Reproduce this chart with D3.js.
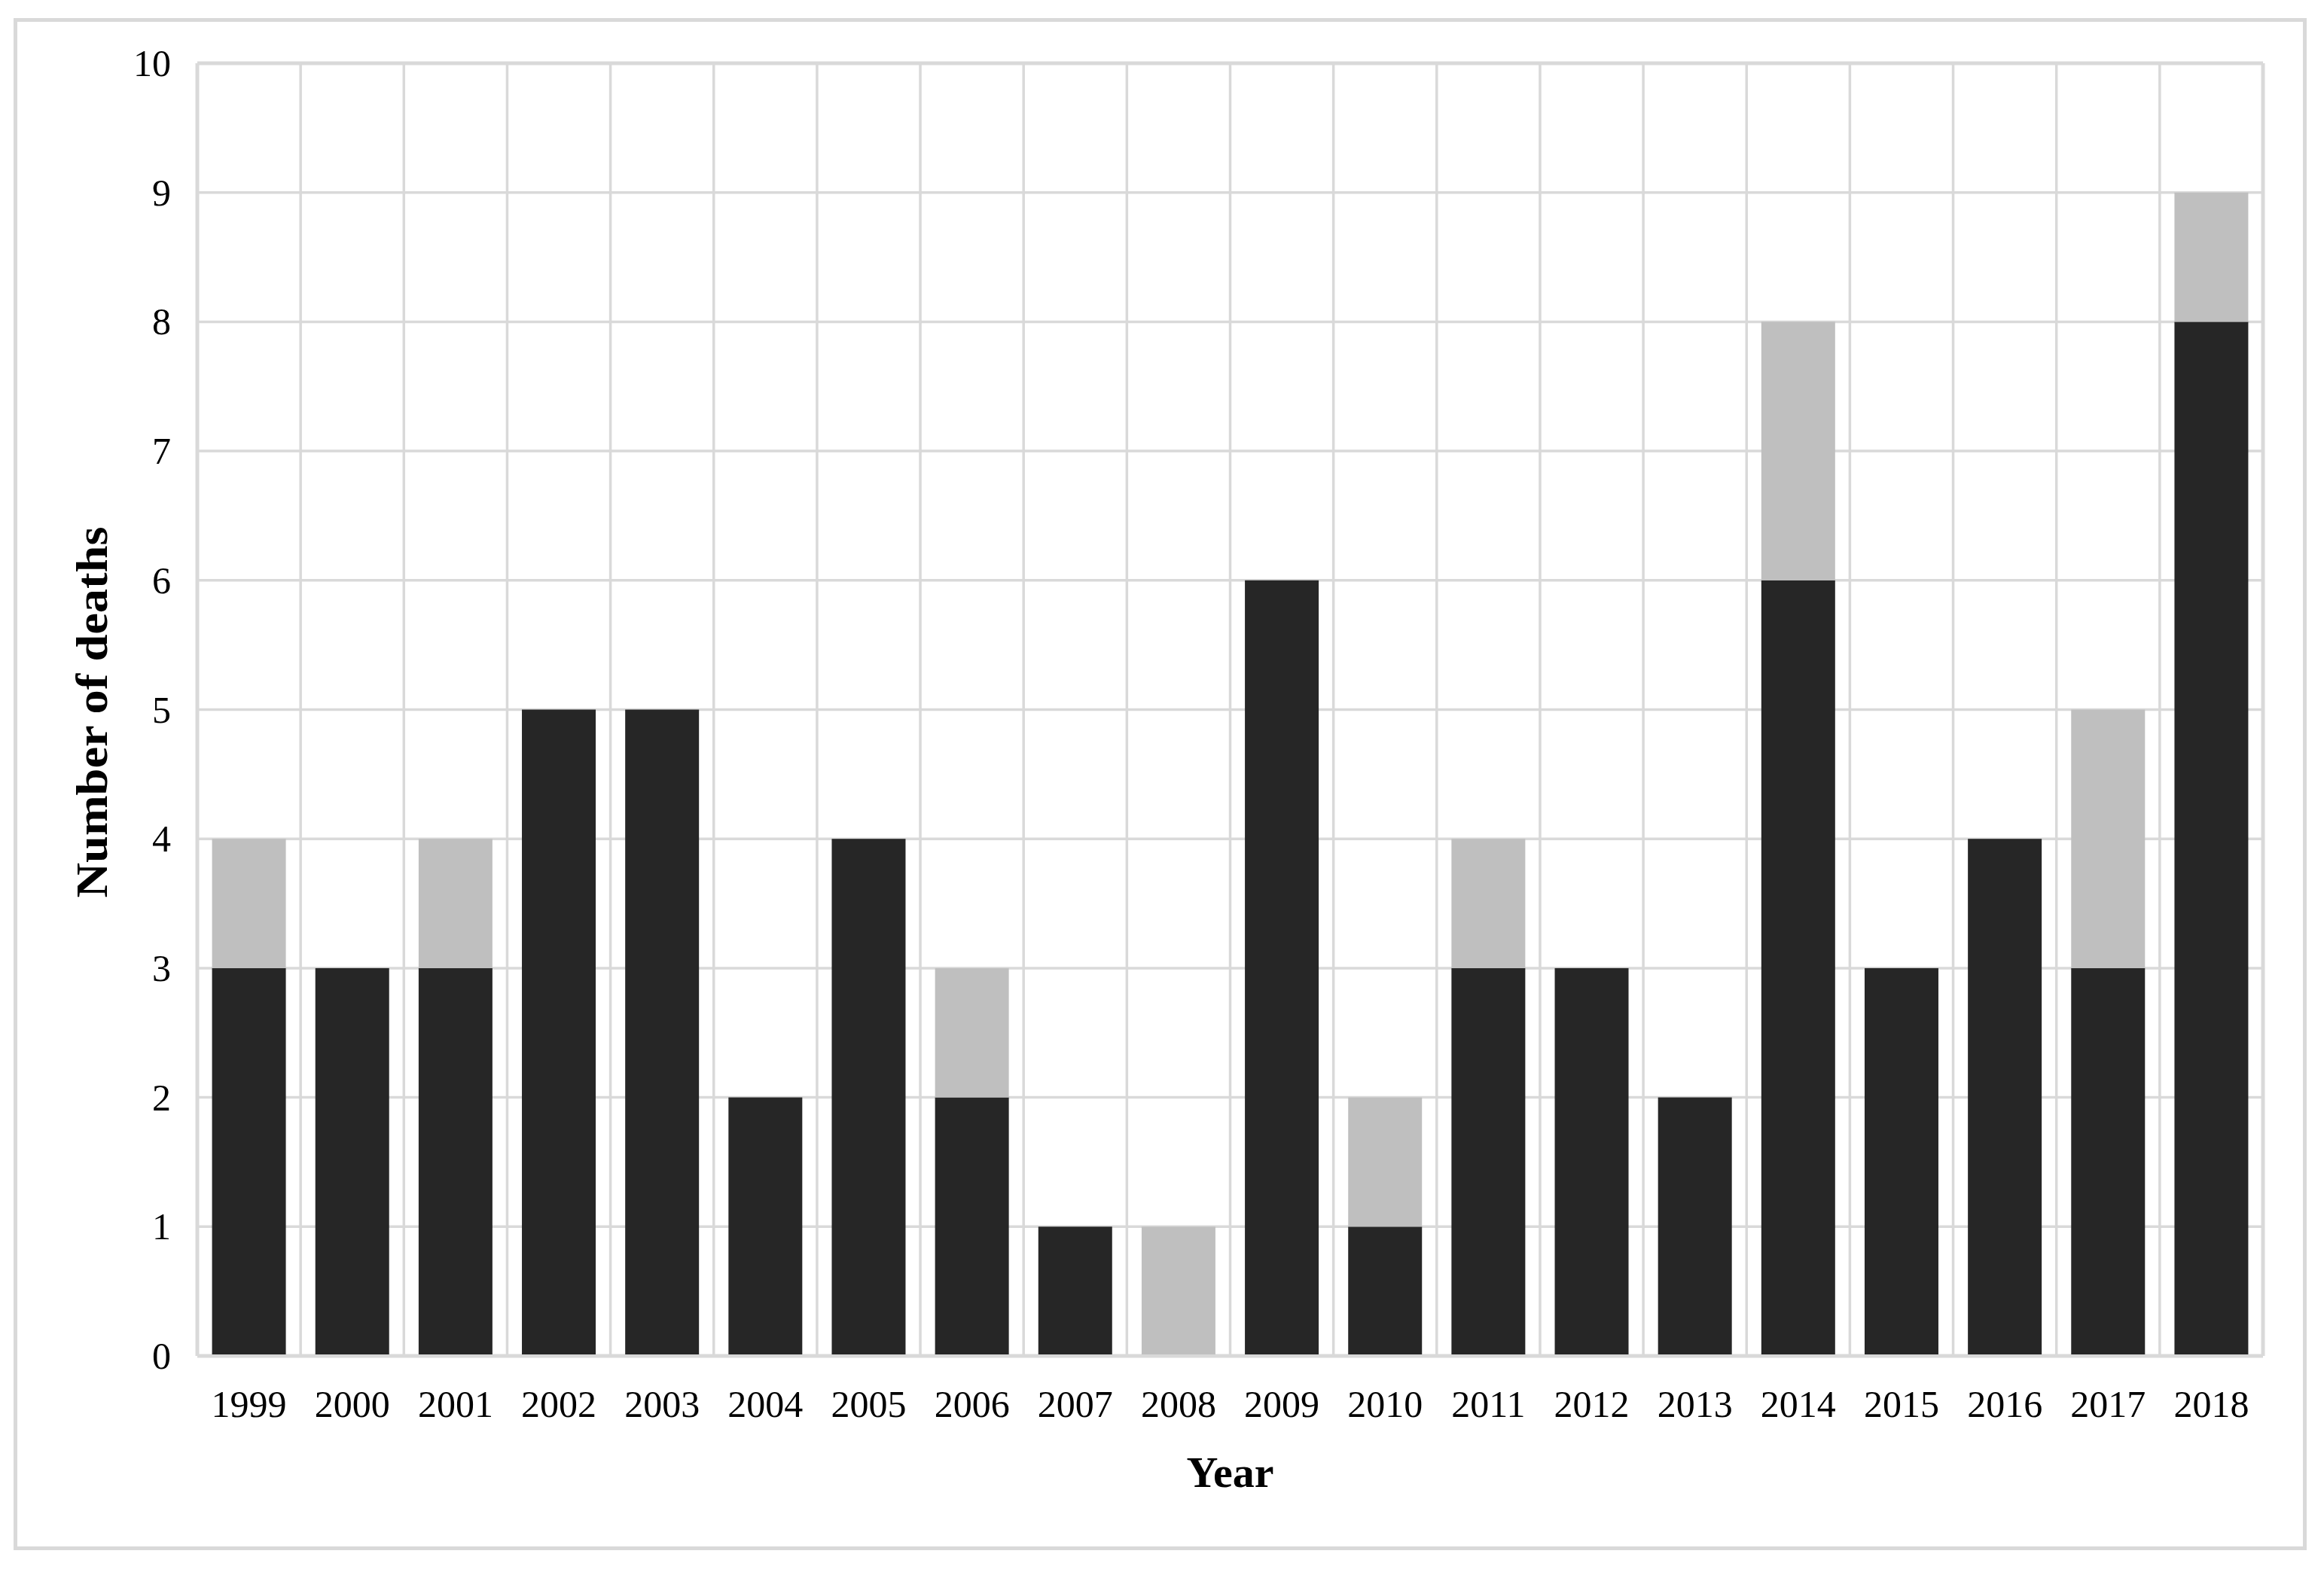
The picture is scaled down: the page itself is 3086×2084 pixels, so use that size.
<!DOCTYPE html>
<html>
<head>
<meta charset="utf-8">
<script src="https://cdn.jsdelivr.net/npm/d3@7"></script>
<style>
  body { margin: 0; background: #ffffff; }
  text { font-family: "Liberation Serif", "DejaVu Serif", serif; fill: #000000; }
</style>
</head>
<body>
<div id="chart"></div>
<script>

// data
const YEARS = ["1999", "2000", "2001", "2002", "2003", "2004", "2005", "2006", "2007", "2008",
               "2009", "2010", "2011", "2012", "2013", "2014", "2015", "2016", "2017", "2018"];
const DARK_VALUES = [3, 3, 3, 5, 5, 2, 4, 2, 1, 0, 6, 1, 3, 3, 2, 6, 3, 4, 3, 8];
const LIGHT_VALUES = [1, 0, 1, 0, 0, 0, 0, 1, 0, 1, 0, 1, 1, 0, 0, 2, 0, 0, 2, 1];
const Y_TICKS = [0, 1, 2, 3, 4, 5, 6, 7, 8, 9, 10];

const FRAME_WIDTH = 3086;
const FRAME_HEIGHT = 2084;
const PLOT = {left: 262, right: 3005, top: 84, bottom: 1801};

const GRID_COLOR = "#d9d9d9";
const DARK = "#262626";
const LIGHT = "#bfbfbf";

const FRAME = d3.select("#chart")
                .append("svg")
                  .attr("width", FRAME_WIDTH)
                  .attr("height", FRAME_HEIGHT);

// outer border
FRAME.append("rect")
      .attr("x", 20.5)
      .attr("y", 26.5)
      .attr("width", 3040)
      .attr("height", 2030)
      .attr("fill", "white")
      .attr("stroke", GRID_COLOR)
      .attr("stroke-width", 5);

const X_SCALE = d3.scaleBand()
                  .domain(YEARS)
                  .range([PLOT.left, PLOT.right])
                  .paddingInner(0.2855)
                  .paddingOuter(0.2855 / 2);

const Y_SCALE = d3.scaleLinear()
                  .domain([0, 10])
                  .range([PLOT.bottom, PLOT.top]);

// horizontal gridlines
FRAME.selectAll(".hgrid")
      .data(Y_TICKS)
      .enter()
      .append("line")
        .attr("class", "hgrid")
        .attr("x1", PLOT.left)
        .attr("x2", PLOT.right)
        .attr("y1", (d) => Y_SCALE(d))
        .attr("y2", (d) => Y_SCALE(d))
        .attr("stroke", GRID_COLOR)
        .attr("stroke-width", (d) => (d === 0 || d === 10) ? 5 : 3.5);

// vertical gridlines at every category edge
const EDGES = d3.range(YEARS.length + 1);
FRAME.selectAll(".vgrid")
      .data(EDGES)
      .enter()
      .append("line")
        .attr("class", "vgrid")
        .attr("x1", (i) => X_SCALE.range()[0] + i * X_SCALE.step())
        .attr("x2", (i) => X_SCALE.range()[0] + i * X_SCALE.step())
        .attr("y1", PLOT.top)
        .attr("y2", PLOT.bottom)
        .attr("stroke", GRID_COLOR)
        .attr("stroke-width", (i) => (i === 0 || i === YEARS.length) ? 5 : 3.5);

// stacked bars
const stackData = YEARS.map((y, i) => ({year: y, dark: DARK_VALUES[i], light: LIGHT_VALUES[i]}));
const series = d3.stack().keys(["dark", "light"])(stackData);
const COLORS = {dark: DARK, light: LIGHT};

FRAME.selectAll(".layer")
      .data(series)
      .enter()
      .append("g")
        .attr("class", "layer")
        .attr("fill", (s) => COLORS[s.key])
      .selectAll("rect")
      .data((s) => s)
      .enter()
      .append("rect")
        .attr("x", (d) => X_SCALE(d.data.year))
        .attr("y", (d) => Y_SCALE(d[1]))
        .attr("width", X_SCALE.bandwidth())
        .attr("height", (d) => Y_SCALE(d[0]) - Y_SCALE(d[1]) - (d[0] === 0 ? 2 : 0));

// y tick labels
FRAME.selectAll(".ylab")
      .data(Y_TICKS)
      .enter()
      .append("text")
        .attr("class", "ylab")
        .attr("x", 227)
        .attr("y", (d) => Y_SCALE(d))
        .attr("dy", "0.34em")
        .attr("text-anchor", "end")
        .attr("font-size", 50)
        .text((d) => d);

// x tick labels
FRAME.selectAll(".xlab")
      .data(YEARS)
      .enter()
      .append("text")
        .attr("class", "xlab")
        .attr("x", (d) => X_SCALE(d) + X_SCALE.bandwidth() / 2)
        .attr("y", 1882)
        .attr("text-anchor", "middle")
        .attr("font-size", 50)
        .text((d) => d);

// axis titles
FRAME.append("text")
      .attr("x", (PLOT.left + PLOT.right) / 2)
      .attr("y", 1975)
      .attr("text-anchor", "middle")
      .attr("font-size", 58)
      .attr("font-weight", "bold")
      .text("Year");

FRAME.append("text")
      .attr("transform", "translate(142,946) rotate(-90)")
      .attr("text-anchor", "middle")
      .attr("font-size", 60)
      .attr("font-weight", "bold")
      .attr("textLength", 493)
      .attr("lengthAdjust", "spacingAndGlyphs")
      .text("Number of deaths");

</script>
</body>
</html>
